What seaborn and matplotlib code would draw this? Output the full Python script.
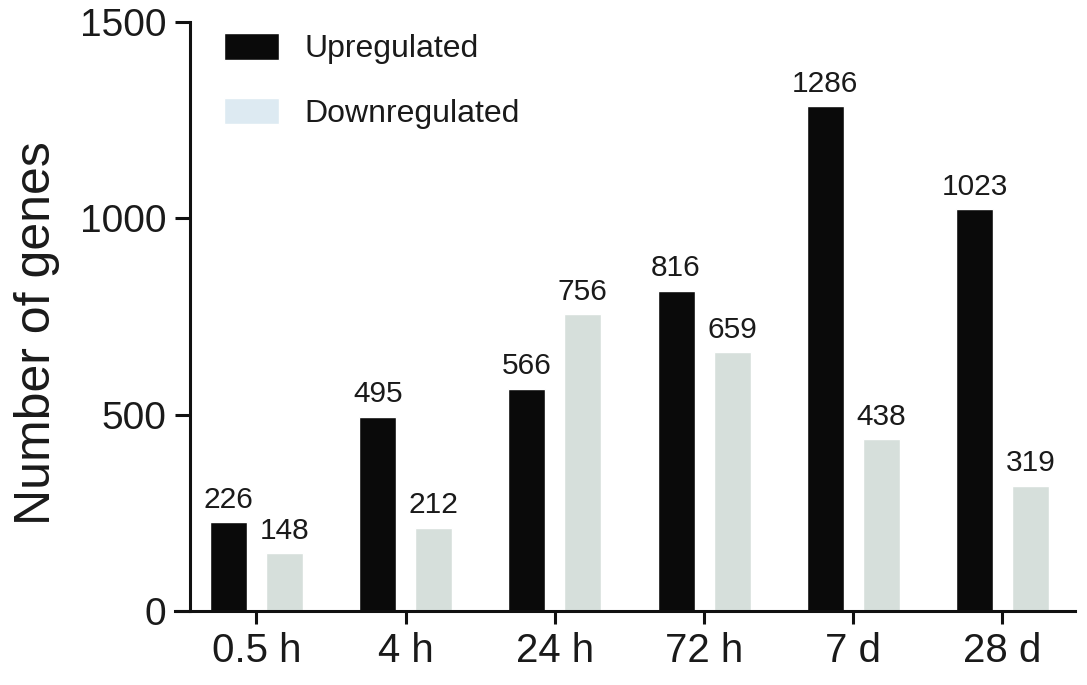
import numpy as np
import pandas as pd
import seaborn as sns
import matplotlib.pyplot as plt

times = ['0.5 h', '4 h', '24 h', '72 h', '7 d', '28 d']
up = [226, 495, 566, 816, 1286, 1023]
down = [148, 212, 756, 659, 438, 319]

df = pd.DataFrame({
    'time': times * 2,
    'genes': up + down,
    'group': ['Upregulated'] * len(times) + ['Downregulated'] * len(times),
})

sns.set_style('ticks')
plt.rcParams['font.family'] = ['Liberation Sans', 'DejaVu Sans']
plt.rcParams['text.color'] = '#1a1a1a'
plt.rcParams['xtick.color'] = '#111111'
plt.rcParams['ytick.color'] = '#111111'
plt.rcParams['axes.labelcolor'] = '#1a1a1a'

fig = plt.figure(figsize=(10.87, 6.85), dpi=100)
ax = fig.add_axes([175 / 1087, 1 - 611 / 685, 900 / 1087, 589 / 685])

sns.barplot(data=df, x='time', y='genes', hue='group', order=times,
            palette={'Upregulated': '#0a0a0a', 'Downregulated': '#d6dfdb'},
            width=0.75, gap=0.34, saturation=1, ax=ax)

for c in ax.containers:
    ax.bar_label(c, fmt='%d', padding=6, fontsize=21.5, color='#1a1a1a')

ax.set_xlim(-0.546, 5.486)
ax.set_ylim(0, 1500)
ax.set_yticks([0, 500, 1000, 1500])
ax.set_xlabel('')
ax.set_ylabel('Number of genes', fontsize=36)
ax.yaxis.set_label_coords(-0.128, 0.472)
ax.tick_params(axis='y', labelsize=28, width=2.2, length=11, pad=6,
               labelcolor='#1a1a1a')
ax.tick_params(axis='x', labelsize=29, width=2.2, length=9, pad=6,
               labelcolor='#1a1a1a')

ax.spines['left'].set_position(('data', -0.446))
ax.spines['left'].set_bounds(0, 1500)
for s in ['left', 'bottom']:
    ax.spines[s].set_linewidth(2.2)
    ax.spines[s].set_color('#111111')
for s in ['top', 'right']:
    ax.spines[s].set_visible(False)

leg = ax.legend(loc='upper left', bbox_to_anchor=(0.023, 1.03), frameon=False,
                fontsize=23, handlelength=1.7, handleheight=0.9,
                handletextpad=0.8, labelspacing=1.05)
leg.legend_handles[1].set_facecolor('#ddeaf2')

fig.savefig('out.png', dpi=100)
